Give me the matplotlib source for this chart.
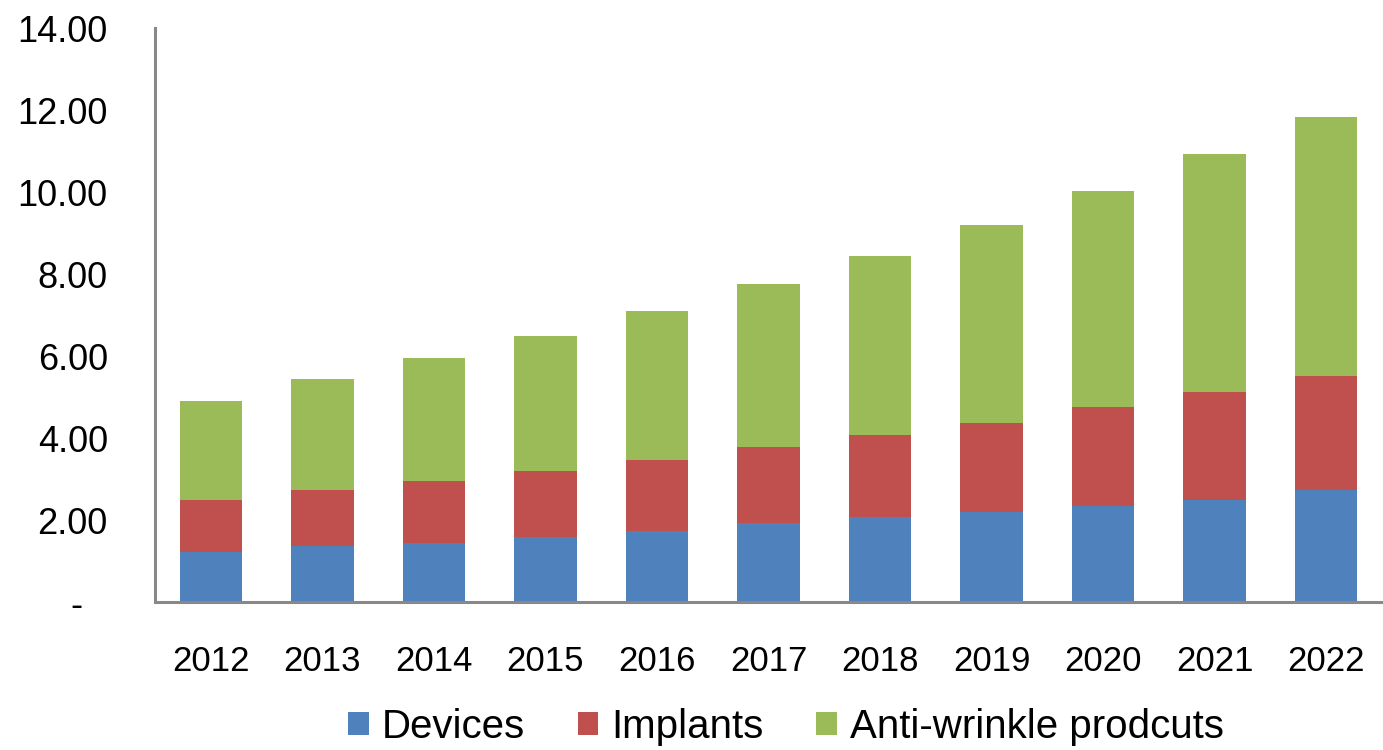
import matplotlib.pyplot as plt
import matplotlib.transforms as mtransforms
import numpy as np

plt.rcParams['font.family'] = ['Liberation Sans', 'DejaVu Sans']

years = ['2012', '2013', '2014', '2015', '2016', '2017', '2018', '2019', '2020', '2021', '2022']
devices = [1.23, 1.37, 1.44, 1.59, 1.73, 1.93, 2.07, 2.20, 2.35, 2.49, 2.74]
implants = [1.26, 1.36, 1.51, 1.61, 1.73, 1.85, 2.00, 2.17, 2.41, 2.63, 2.77]
anti_wrinkle = [2.41, 2.71, 3.00, 3.29, 3.64, 3.98, 4.37, 4.83, 5.26, 5.81, 6.32]

y_ticks = [0, 2, 4, 6, 8, 10, 12, 14]
y_labels = ['-', '2.00', '4.00', '6.00', '8.00', '10.00', '12.00', '14.00']

fig = plt.figure(figsize=(13.83, 7.5), dpi=100)
ax = fig.add_axes([155 / 1383, 148 / 750, 1227 / 1383, 574 / 750])

x = np.arange(len(years))
w = 0.56
b1 = ax.bar(x, devices, w, color='#4F81BD', label='Devices')
b2 = ax.bar(x, implants, w, bottom=devices, color='#C0504D', label='Implants')
base = np.array(devices) + np.array(implants)
b3 = ax.bar(x, anti_wrinkle, w, bottom=base, color='#9BBB59', label='Anti-wrinkle prodcuts')

ax.set_xlim(-0.5, len(years) - 0.5)
ax.set_ylim(0, 14)
ax.set_xticks(x)
ax.set_xticklabels(years, fontsize=25)
ax.set_yticks(y_ticks)
ax.set_yticklabels(y_labels, fontsize=26)
ax.tick_params(axis='both', length=0)
ax.tick_params(axis='x', pad=31)
ax.tick_params(axis='y', pad=34)

# excel-style zero dash sits a bit left of the other labels
lbl0 = ax.get_yticklabels()[0]
lbl0.set_transform(lbl0.get_transform() + mtransforms.ScaledTranslation(-0.25, 0, fig.dpi_scale_trans))

for s in ['top', 'right']:
    ax.spines[s].set_visible(False)
for s in ['left', 'bottom']:
    ax.spines[s].set_color('#888888')
    ax.spines[s].set_linewidth(2.2)

fig.legend(handles=[b1, b2, b3], loc='center', bbox_to_anchor=(786 / 1383, 1 - 727 / 750),
           ncol=3, frameon=False, fontsize=29, handlelength=0.52, handleheight=0.52,
           handletextpad=0.32, columnspacing=1.3)

fig.savefig('out.png', dpi=100)
